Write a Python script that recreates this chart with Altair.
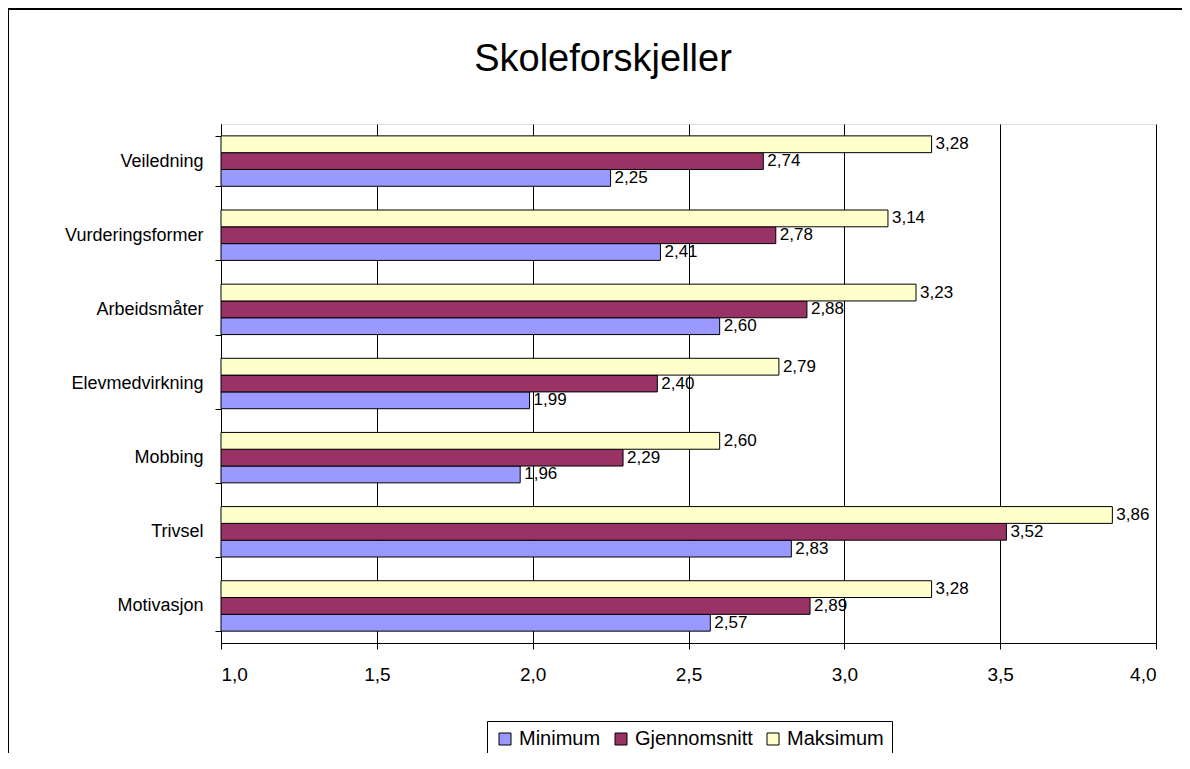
import altair as alt
import pandas as pd

title_text = "Skoleforskjeller"
categories = ["Veiledning", "Vurderingsformer", "Arbeidsmåter", "Elevmedvirkning",
              "Mobbing", "Trivsel", "Motivasjon"]
minimum = [2.25, 2.41, 2.60, 1.99, 1.96, 2.83, 2.57]
gjennomsnitt = [2.74, 2.78, 2.88, 2.40, 2.29, 3.52, 2.89]
maksimum = [3.28, 3.14, 3.23, 2.79, 2.60, 3.86, 3.28]
series = ["Minimum", "Gjennomsnitt", "Maksimum"]
colors = ["#9999FF", "#993366", "#FFFFCC"]

rows = []
for i, c in enumerate(categories):
    for s, vals in zip(series, [minimum, gjennomsnitt, maksimum]):
        v = vals[i]
        rows.append({"kategori": c, "serie": s, "verdi": v,
                     "etikett": f"{v:.2f}".replace(".", ",")})
df = pd.DataFrame(rows)

FONT = "Liberation Sans"
W, H = 935, 519

y_enc = alt.Y("kategori:N", sort=categories,
              scale=alt.Scale(paddingInner=0.32, paddingOuter=0.16),
              axis=alt.Axis(title=None, tickBand="extent", tickSize=6, labelPadding=12,
                            labelFontSize=18, labelFont=FONT, labelColor="black",
                            domainColor="black", tickColor="black", grid=False,
                            labelLimit=300))
yoff = alt.YOffset("serie:N", sort=["Maksimum", "Gjennomsnitt", "Minimum"],
                   scale=alt.Scale(paddingInner=0, paddingOuter=0))
x_enc = alt.X("verdi:Q",
              scale=alt.Scale(domain=[1.0, 4.0], nice=False, zero=False),
              axis=alt.Axis(title=None, values=[1.0, 1.5, 2.0, 2.5, 3.0, 3.5, 4.0],
                            labelExpr="replace(format(datum.value, '.1f'), '.', ',')",
                            tickSize=6, labelPadding=16, labelFontSize=19, labelFont=FONT,
                            labelColor="black", domainColor="black", tickColor="black",
                            grid=True, gridColor="black", gridWidth=1, gridOpacity=1))

base = alt.Chart(df)

bars = base.mark_bar(stroke="black", strokeWidth=1, size=16.8).encode(
    x=x_enc,
    x2=alt.datum(1.0),
    y=y_enc,
    yOffset=yoff,
    color=alt.Color("serie:N", sort=series,
                    scale=alt.Scale(domain=series, range=colors),
                    legend=alt.Legend(title=None, orient="none", legendX=266, legendY=597,
                                      direction="horizontal", symbolType="square",
                                      symbolSize=144, symbolStrokeColor="black",
                                      symbolStrokeWidth=1, labelFontSize=20, labelFont=FONT,
                                      labelColor="black", strokeColor="black", padding=8,
                                      columnPadding=10, labelOffset=4)),
)

labels = base.mark_text(align="left", baseline="middle", dx=4, fontSize=17,
                        font=FONT, color="black").encode(
    x="verdi:Q",
    y=alt.Y("kategori:N", sort=categories),
    yOffset=yoff,
    text="etikett:N",
)

title_df = pd.DataFrame({"t": [title_text]})
title = alt.Chart(title_df).mark_text(align="center", baseline="alphabetic", fontSize=38,
                                      font=FONT, color="black").encode(
    text="t:N", x=alt.value(382), y=alt.value(-53))

frame_left = alt.Chart(title_df).mark_rule(color="black", strokeWidth=2).encode(
    x=alt.value(-213), y=alt.value(-115), y2=alt.value(700))
frame_top = alt.Chart(title_df).mark_rule(color="black", strokeWidth=2).encode(
    x=alt.value(-213), x2=alt.value(1000), y=alt.value(-115))

chart = alt.layer(bars, labels, title, frame_left, frame_top).properties(
    width=W, height=H,
    autosize=alt.AutoSizeParams(type="none"),
    padding={"left": 213, "top": 116, "right": 26, "bottom": 110},
).configure_view(stroke="#808080", strokeWidth=1).configure(background="white")

chart.save("out.html", embed_options={"renderer": "svg", "actions": False})
